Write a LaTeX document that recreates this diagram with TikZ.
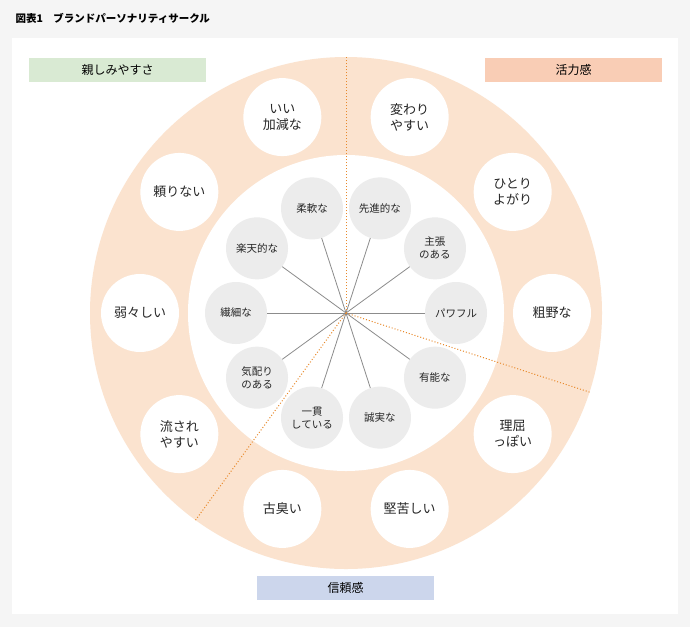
\documentclass[tikz,border=0pt]{standalone}
\usepackage{fontspec}
\setmainfont{Noto Sans CJK JP}
\usetikzlibrary{calc,positioning}
\definecolor{ringPeach}{HTML}{FBE3CF}
\definecolor{innerGrey}{HTML}{ECECEC}
\definecolor{lineOrange}{HTML}{E8892B}
\definecolor{boxGreen}{HTML}{D9EAD3}
\definecolor{boxPeach}{HTML}{F9CDB5}
\definecolor{boxBlue}{HTML}{CCD6EC}
\definecolor{pageGrey}{HTML}{F5F5F5}

\begin{document}
\begin{tikzpicture}[x=1pt,y=-1pt]

    \tikzstyle{commonNode}=[circle, align=center, inner sep=0pt, text=black!85]
    \tikzstyle{outerTrait}=[commonNode, fill=white, minimum size=78pt, font=\fontsize{13}{16}\selectfont]
    \tikzstyle{innerTrait}=[commonNode, fill=innerGrey, minimum size=62pt, font=\fontsize{10.5}{13}\selectfont]
    \tikzstyle{groupLabel}=[minimum width=177pt, minimum height=24pt, inner sep=0pt, font=\fontsize{12}{14}\selectfont]
    \tikzstyle{spoke}=[draw=black!45, line width=0.8pt]
    \tikzstyle{border}=[draw=lineOrange, dotted, line width=1pt]

    % Background
    \fill[pageGrey] (0,0) rectangle (690,627);
    \fill[white] (12,38) rectangle (678,614);
    \useasboundingbox (0,0) rectangle (690,627);

    % Title
    \node at (12,18) [anchor=west, font=\bfseries\fontsize{10.5}{12}\selectfont] (title) {図表1　ブランドパーソナリティサークル};

    \begin{scope}[shift={(346,313)}]
        % Spacing the circles out
        \def \outerdist {206}
        \def \innerdist {110}

        % Rings
        \fill[ringPeach] (0,0) circle (256);
        \fill[white] (0,0) circle (158);
        \coordinate (O) at (0,0);

        % Outer traits
        \node at (0:\outerdist)   [outerTrait] (Rough)   {粗野な};
        \node at (-36:\outerdist) [outerTrait] (Lively)  {ひとり\\よがり};
        \node at (-72:\outerdist) [outerTrait] (Odd)     {変わり\\やすい};
        \node at (-108:\outerdist)[outerTrait] (Sloppy)  {いい\\加減な};
        \node at (-144:\outerdist)[outerTrait] (Unrel)   {頼りない};
        \node at (180:\outerdist) [outerTrait] (Weak)    {弱々しい};
        \node at (144:\outerdist) [outerTrait] (Swayed)  {流され\\やすい};
        \node at (108:\outerdist) [outerTrait] (Old)     {古臭い};
        \node at (72:\outerdist)  [outerTrait] (Stiff)   {堅苦しい};
        \node at (36:\outerdist)  [outerTrait] (Picky)   {理屈\\っぽい};

        % Inner traits
        \node at (0:\innerdist)   [innerTrait] (Power)   {パワフル};
        \node at (-36:\innerdist) [innerTrait] (Assert)  {主張\\のある};
        \node at (-72:\innerdist) [innerTrait] (Adv)     {先進的な};
        \node at (-108:\innerdist)[innerTrait] (Flex)    {柔軟な};
        \node at (-144:\innerdist)[innerTrait] (Optim)   {楽天的な};
        \node at (180:\innerdist) [innerTrait] (Delic)   {繊細な};
        \node at (144:\innerdist) [innerTrait] (Caring)  {気配り\\のある};
        \node at (108:\innerdist) [innerTrait] (Consist) {一貫\\している};
        \node at (72:\innerdist)  [innerTrait] (Sincere) {誠実な};
        \node at (36:\innerdist)  [innerTrait] (Able)    {有能な};

        % Spokes
        \foreach \n in {Power,Assert,Adv,Flex,Optim,Delic,Caring,Consist,Sincere,Able}
            \draw[spoke] (O) -- (\n);

        % Group borders
        \coordinate (Btop) at (-90:256);
        \coordinate (Bleft) at (126:256);
        \coordinate (Bright) at (18:256);
        \draw[border] (O) -- (Btop);
        \draw[border] (O) -- (Bleft);
        \draw[border] (O) -- (Bright);
    \end{scope}

    % Group labels
    \node at (117.5,70) [groupLabel, fill=boxGreen] (Friendly) {親しみやすさ};
    \node at (573.5,70) [groupLabel, fill=boxPeach] (Vital)    {活力感};
    \node at (345.5,587.5) [groupLabel, fill=boxBlue] (Trust)  {信頼感};
\end{tikzpicture}
\end{document}
